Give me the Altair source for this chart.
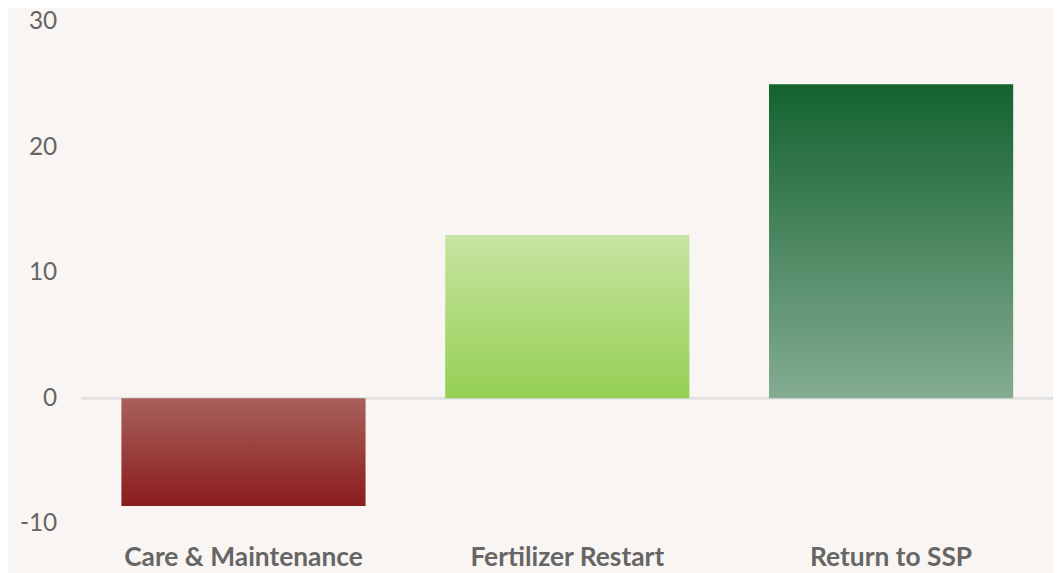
import altair as alt
import pandas as pd

categories = ["Care & Maintenance", "Fertilizer Restart", "Return to SSP"]
values = [-8.6, 13.0, 25.0]
gradient_top = ["#a8615b", "#c7e4a2", "#13622f"]
gradient_bottom = ["#8a1c1c", "#95d053", "#84ac92"]
y_ticks = [-10, 0, 10, 20, 30]

df = pd.DataFrame({"scenario": categories, "value": values})

x_enc = alt.X(
    "scenario:N",
    sort=categories,
    scale=alt.Scale(paddingInner=0.246, paddingOuter=0.123),
    axis=alt.Axis(
        title=None, labelAngle=0, domain=False, ticks=False,
        labelFont="Lato", labelFontSize=26.5, labelFontWeight="bold",
        labelColor="#666666", labelPadding=21, labelLimit=0,
    ),
)
y_enc = alt.Y(
    "value:Q",
    scale=alt.Scale(domain=[-10, 30], nice=False),
    axis=alt.Axis(
        title=None, values=y_ticks, domain=False, ticks=False, grid=False,
        labelFont="Lato", labelFontSize=24.5, labelColor="#666666",
        labelPadding=25, labelExpr="datum.value + ''",
    ),
)

layers = []
for cat, top, bot in zip(categories, gradient_top, gradient_bottom):
    grad = alt.Gradient(
        gradient="linear",
        x1=0, x2=0, y1=0, y2=1,
        stops=[alt.GradientStop(color=top, offset=0),
               alt.GradientStop(color=bot, offset=1)],
    )
    layers.append(
        alt.Chart(df)
        .transform_filter(alt.datum.scenario == cat)
        .mark_bar(color=grad)
        .encode(x=x_enc, y=y_enc)
    )

zero = alt.Chart(df).mark_rule(color="#e0e0e0", strokeWidth=2).encode(
    y=alt.datum(0)
)

chart = (
    alt.layer(zero, *layers)
    .properties(
        width=977, height=505, background="#f9f5f2",
        autosize=alt.AutoSizeParams(type="none"),
        padding={"left": 74, "top": 12, "right": 0, "bottom": 52},
    )
    .configure_view(stroke=None)
)

chart.save("out.html", embed_options={"renderer": "svg", "actions": False})
